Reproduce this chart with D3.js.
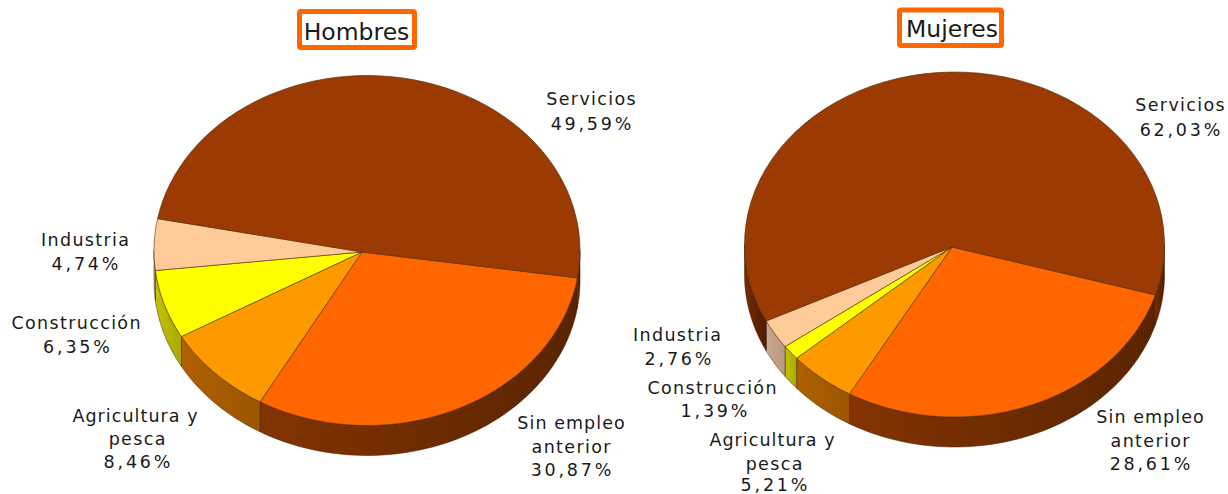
<!DOCTYPE html>
<html><head><meta charset="utf-8">
<script src="https://cdn.jsdelivr.net/npm/d3@7"></script>
<style>html,body{margin:0;background:#fff}svg{display:block}text{font-family:"DejaVu Sans",Verdana,sans-serif;fill:#1a1a1a}</style>
</head><body><svg id="c" width="1228" height="494"></svg>
<script>
const categories = ["Sin empleo anterior","Agricultura y pesca","Construcción","Industria","Servicios"];
const hombres = [30.87,8.46,6.35,4.74,49.59];
const mujeres = [28.61,5.21,1.39,2.76,62.03];
const titles = ["Hombres","Mujeres"];
const hombresLabels = [["Sin empleo","anterior","30,87%"],["Agricultura y","pesca","8,46%"],["Construcción","6,35%"],["Industria","4,74%"],["Servicios","49,59%"]];
const mujeresLabels = [["Sin empleo","anterior","28,61%"],["Agricultura y","pesca","5,21%"],["Construcción","1,39%"],["Industria","2,76%"],["Servicios","62,03%"]];

const topColors = ["#FF6600","#FF9900","#FFFF00","#FFCC99","#9C3A04"];
const rimColors = [["#843300","#5a2400"],["#b06000","#9a5600"],["#c4c400","#a8a800"],["#c9a98f","#b89880"],["#7a2a00","#4e1c00"]];

const layouts = [
 {cx:367,cy:250.5,rx:213,ry:175,depth:30,apex:[362,252],start:99,
  box:[299.5,11.5,115,36],titleX:356.5,titleY:40,
  labels:[[[571,429],[571,453],[571,476]],[[135,422],[137,445],[137,468]],[[76,329],[76.5,353]],[[85,246],[85,270]],[[591,105],[591,130]]]},
 {cx:954.5,cy:244.5,rx:210,ry:172.5,depth:30,apex:[952,247],start:107,
  box:[899.5,10,102,35.5],titleX:952,titleY:37,
  labels:[[[1150,423],[1150,447],[1150,470]],[[772,446],[774,470],[774,490.5]],[[712,394],[714,417]],[[677,341],[678,365]],[[1180,111],[1180,136]]]}
];

const svg = d3.select("#c");
const defs = svg.append("defs");
rimColors.forEach((c,i)=>{
  const g = defs.append("linearGradient").attr("id","rim"+i);
  g.append("stop").attr("offset","0%").attr("stop-color",c[0]);
  g.append("stop").attr("offset","100%").attr("stop-color",c[1]);
});
const rad = d3.scaleLinear().domain([0,360]).range([0,2*Math.PI]);
const line = d3.line();
const spacing = t => t.includes("%") ? 2.8 : t.includes(" ") ? 1.05 : 1.35;

function drawPie(values, labels, title, L){
  const pie = d3.pie().sort(null).startAngle(rad(L.start)).endAngle(rad(L.start+360));
  const arcs = pie(values);
  const pt = (a,dy=0)=>[L.cx+L.rx*Math.sin(a), L.cy-L.ry*Math.cos(a)+dy];
  const samples = (a0,a1)=>d3.range(0,61).map(i=>a0+(a1-a0)*i/60);
  const rimG = svg.append("g"), topG = svg.append("g");
  arcs.forEach((d,i)=>{
    [[90,270],[450,630]].forEach(([lo,hi])=>{
      const a0=Math.max(d.startAngle,rad(lo)), a1=Math.min(d.endAngle,rad(hi));
      if(a1<=a0) return;
      const s=samples(a0,a1);
      const pts=s.map(a=>pt(a)).concat(s.slice().reverse().map(a=>pt(a,L.depth)));
      rimG.append("path").attr("d",line(pts)+"Z").attr("fill",`url(#rim${i})`)
        .attr("stroke","#3a1a00").attr("stroke-width",0.7).attr("stroke-opacity",0.7);
    });
  });
  arcs.forEach((d,i)=>{
    const pts=[L.apex].concat(samples(d.startAngle,d.endAngle).map(a=>pt(a)));
    topG.append("path").attr("d",line(pts)+"Z").attr("fill",topColors[i])
      .attr("stroke","#4a2a00").attr("stroke-width",0.8).attr("stroke-opacity",0.75);
  });
  svg.append("rect").attr("x",L.box[0]).attr("y",L.box[1]).attr("width",L.box[2]).attr("height",L.box[3])
    .attr("rx",1.5).attr("fill","#fff").attr("stroke","#FF6600").attr("stroke-width",5);
  svg.append("text").attr("x",L.titleX).attr("y",L.titleY).attr("text-anchor","middle")
    .attr("font-size",23.5).text(title);
  labels.forEach((lines,i)=>lines.forEach((t,j)=>{
    const ls=spacing(t);
    svg.append("text").attr("x",L.labels[i][j][0]+ls/2).attr("y",L.labels[i][j][1])
      .attr("text-anchor","middle").attr("font-size",17.5).attr("letter-spacing",ls).text(t);
  }));
}
drawPie(hombres,hombresLabels,titles[0],layouts[0]);
drawPie(mujeres,mujeresLabels,titles[1],layouts[1]);
</script></body></html>
